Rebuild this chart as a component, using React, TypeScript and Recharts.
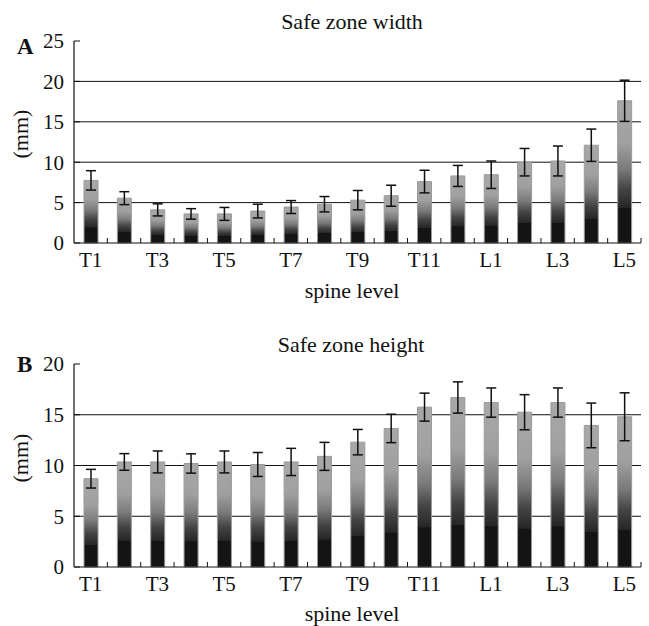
import React from 'react';
import { BarChart, Bar, XAxis, YAxis, CartesianGrid, ErrorBar } from 'recharts';

// ---- data ----
const levels = ['T1', 'T2', 'T3', 'T4', 'T5', 'T6', 'T7', 'T8', 'T9', 'T10', 'T11', 'T12', 'L1', 'L2', 'L3', 'L4', 'L5'];

const widthMean = [7.75, 5.55, 4.1, 3.6, 3.6, 3.95, 4.45, 4.8, 5.3, 5.85, 7.6, 8.3, 8.45, 10.0, 10.15, 12.1, 17.6];
const widthSd = [1.2, 0.8, 0.75, 0.65, 0.8, 0.85, 0.8, 0.95, 1.2, 1.3, 1.4, 1.3, 1.7, 1.7, 1.85, 2.0, 2.55];

const heightMean = [8.7, 10.35, 10.35, 10.2, 10.35, 10.1, 10.35, 10.9, 12.3, 13.65, 15.75, 16.7, 16.2, 15.25, 16.2, 13.95, 14.8];
const heightSd = [0.92, 0.82, 1.08, 0.95, 1.08, 1.18, 1.34, 1.38, 1.25, 1.4, 1.38, 1.54, 1.44, 1.73, 1.44, 2.2, 2.36];

const widthTicks = [0, 5, 10, 15, 20, 25];
const heightTicks = [0, 5, 10, 15, 20];
const widthGrid = [5, 10, 15, 20];
const heightGrid = [5, 10, 15];

const widthData = levels.map((level, i) => ({ level, mean: widthMean[i], sd: widthSd[i] }));
const heightData = levels.map((level, i) => ({ level, mean: heightMean[i], sd: heightSd[i] }));

// ---- style ----
const FONT = '"Liberation Serif", "Times New Roman", Times, serif';
const INK = '#111';
const W = 649;
const Y_AXIS_W = 74;
const RIGHT_M = 8;
const BAND = (W - Y_AXIS_W - RIGHT_M) / levels.length;

function XTick(props: any) {
  const { x, y, payload, index } = props;
  return (
    <g>
      <line x1={x + BAND / 2} y1={y} x2={x + BAND / 2} y2={y - 5} stroke={INK} strokeWidth={1} />
      {index % 2 === 0 && (
        <text x={x} y={y + 24} textAnchor="middle" fontSize={21} fontFamily={FONT} fill={INK}>
          {payload.value}
        </text>
      )}
    </g>
  );
}

function YTick(props: any) {
  const { x, y, payload } = props;
  return (
    <g>
      <line x1={x} y1={y} x2={x + 6} y2={y} stroke={INK} strokeWidth={1} />
      <text x={x - 10} y={y} dy="0.35em" textAnchor="end" fontSize={21} fontFamily={FONT} fill={INK}>
        {payload.value}
      </text>
    </g>
  );
}

function Panel(p: {
  data: any[];
  ticks: number[];
  grid: number[];
  gradId: string;
  top: number;
  height: number;
  marginTop: number;
  xAxisHeight: number;
}) {
  const max = p.ticks[p.ticks.length - 1];
  return (
    <div style={{ position: 'absolute', left: 0, top: p.top }}>
      <BarChart
        width={W}
        height={p.height}
        data={p.data}
        margin={{ top: p.marginTop, right: RIGHT_M, left: 0, bottom: 0 }}
        barCategoryGap={0}
      >
        <defs>
          <linearGradient id={p.gradId} x1="0" y1="0" x2="0" y2="1">
            <stop offset="0" stopColor="#a8a8a8" />
            <stop offset="0.3" stopColor="#a0a0a0" />
            <stop offset="0.48" stopColor="#7a7a7a" />
            <stop offset="0.62" stopColor="#444" />
            <stop offset="0.75" stopColor="#262626" />
            <stop offset="0.755" stopColor="#141414" />
            <stop offset="1" stopColor="#141414" />
          </linearGradient>
        </defs>
        <CartesianGrid
          vertical={false}
          stroke={INK}
          strokeWidth={1}
          horizontalCoordinatesGenerator={(args: any) => {
            const { yAxis, offset } = args || {};
            if (yAxis && typeof yAxis.scale === 'function') {
              return p.grid.map((v) => yAxis.scale(v));
            }
            return p.grid.map((v) => offset.top + offset.height * (1 - v / max));
          }}
        />
        <XAxis
          dataKey="level"
          interval={0}
          tickSize={0}
          tickMargin={0}
          tickLine={false}
          tick={<XTick />}
          axisLine={{ stroke: INK, strokeWidth: 1.2 }}
          height={p.xAxisHeight}
        />
        <YAxis
          domain={[0, max]}
          ticks={p.ticks}
          width={Y_AXIS_W}
          tickSize={0}
          tickMargin={0}
          tickLine={false}
          tick={<YTick />}
          axisLine={{ stroke: INK, strokeWidth: 1.2 }}
        />
        <Bar dataKey="mean" fill={`url(#${p.gradId})`} stroke="#9a9a9a" strokeWidth={1} barSize={14} isAnimationActive={false}>
          <ErrorBar dataKey="sd" width={5} stroke={INK} strokeWidth={1.5} direction="y" />
        </Bar>
      </BarChart>
    </div>
  );
}

export default function App() {
  const textStyle = { fontFamily: FONT, fill: INK } as any;
  return (
    <div style={{ position: 'absolute', left: 0, top: 0, width: W, height: 626, background: '#fff' }}>
      <Panel data={widthData} ticks={widthTicks} grid={widthGrid} gradId="gradW" top={0} height={300} marginTop={41} xAxisHeight={57} />
      <Panel data={heightData} ticks={heightTicks} grid={heightGrid} gradId="gradH" top={300} height={326} marginTop={64} xAxisHeight={59} />
      <svg width={W} height={626} style={{ position: 'absolute', left: 0, top: 0, pointerEvents: 'none' }}>
        <text x={352} y={28.5} textAnchor="middle" fontSize={22} {...textStyle}>Safe zone width</text>
        <text x={17} y={54} fontSize={23} fontWeight="bold" {...textStyle}>A</text>
        <text x={28} y={134} textAnchor="middle" fontSize={22} transform="rotate(-90 28 134)" {...textStyle}>(mm)</text>
        <text x={352} y={297.5} textAnchor="middle" fontSize={22} {...textStyle}>spine level</text>

        <text x={351} y={351.5} textAnchor="middle" fontSize={22} {...textStyle}>Safe zone height</text>
        <text x={17} y={372} fontSize={23} fontWeight="bold" {...textStyle}>B</text>
        <text x={28} y={458} textAnchor="middle" fontSize={22} transform="rotate(-90 28 458)" {...textStyle}>(mm)</text>
        <text x={352} y={620.5} textAnchor="middle" fontSize={22} {...textStyle}>spine level</text>
      </svg>
    </div>
  );
}
